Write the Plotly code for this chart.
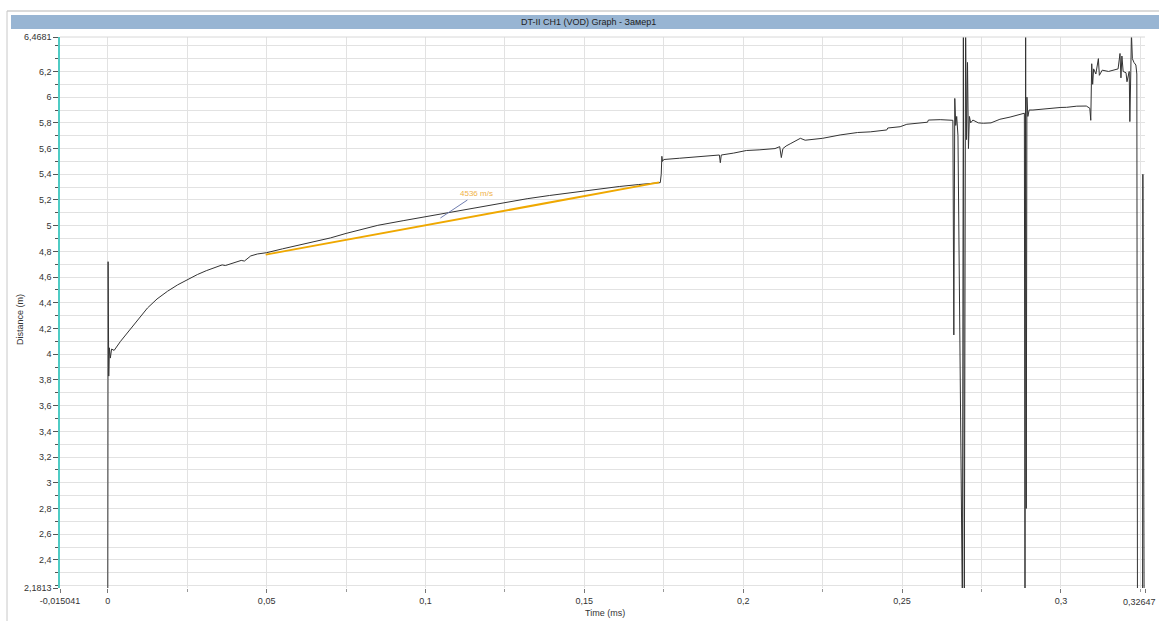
import plotly.graph_objects as go

# ---- data ----
time_ms = [
    0.0000, 0.0001, 0.0002, 0.0003, 0.0005, 0.0008, 0.0012, 0.0020, 0.0040, 0.0072,
    0.0100, 0.0125, 0.0155, 0.0188, 0.0220, 0.0250, 0.0282, 0.0310, 0.0345, 0.0360,
    0.0370, 0.0400, 0.0420, 0.0430, 0.0450, 0.0471, 0.0500, 0.0550, 0.0600, 0.0650,
    0.0701, 0.0750, 0.0800, 0.0850, 0.0932, 0.1000, 0.1050, 0.1100, 0.1160, 0.1250,
    0.1320, 0.1390, 0.1450, 0.1500, 0.1560, 0.1610, 0.1670, 0.1739, 0.1742, 0.1744,
    0.1746, 0.1750, 0.1800, 0.1850, 0.1925, 0.1928, 0.1931, 0.1970, 0.2010, 0.2050,
    0.2100, 0.2115, 0.2120, 0.2125, 0.2135, 0.2150, 0.2180, 0.2195, 0.2250, 0.2305,
    0.2360, 0.2400, 0.2452, 0.2455, 0.2494, 0.2515, 0.2550, 0.2580, 0.2583, 0.2620,
    0.2660, 0.2663, 0.2666, 0.2669, 0.2672, 0.2676, 0.2690, 0.2693, 0.2696, 0.2700,
    0.2703, 0.2706, 0.2709, 0.2712, 0.2716, 0.2723, 0.2740, 0.2756, 0.2780, 0.2808,
    0.2840, 0.2870, 0.2885, 0.2887, 0.2889, 0.2891, 0.2893, 0.2896, 0.2900, 0.2912,
    0.2950, 0.3000, 0.3018, 0.3050, 0.3080, 0.3091, 0.3094, 0.3097, 0.3100, 0.3103,
    0.3110, 0.3118, 0.3121, 0.3130, 0.3150, 0.3170, 0.3180, 0.3186, 0.3189, 0.3192,
    0.3196, 0.3205, 0.3208, 0.3215, 0.3217, 0.3220, 0.3222, 0.3225, 0.3230, 0.3236,
    0.3239, 0.3241, 0.3257, 0.3258, 0.3260, 0.3262,
]
distance_m = [
    2.00, 4.72, 3.95, 3.83, 4.05, 3.97, 4.04, 4.03, 4.10, 4.20,
    4.29, 4.36, 4.43, 4.49, 4.54, 4.58, 4.62, 4.65, 4.68, 4.695,
    4.69, 4.715, 4.73, 4.725, 4.765, 4.78, 4.79, 4.82, 4.848, 4.878,
    4.905, 4.94, 4.97, 5.003, 5.04, 5.07, 5.095, 5.118, 5.145, 5.18,
    5.21, 5.235, 5.255, 5.27, 5.29, 5.305, 5.32, 5.335, 5.40, 5.54,
    5.50, 5.515, 5.525, 5.535, 5.55, 5.49, 5.55, 5.565, 5.585, 5.59,
    5.60, 5.615, 5.53, 5.60, 5.62, 5.64, 5.68, 5.665, 5.68, 5.706,
    5.725, 5.73, 5.745, 5.76, 5.77, 5.789, 5.80, 5.805, 5.822, 5.825,
    5.82, 4.15, 5.99, 5.78, 5.85, 5.70, 2.00, 6.60, 2.00, 6.60,
    5.67, 6.27, 5.60, 5.85, 5.80, 5.822, 5.80, 5.797, 5.80, 5.828,
    5.845, 5.865, 5.875, 2.00, 6.60, 2.80, 6.00, 5.85, 5.90, 5.90,
    5.91, 5.92, 5.921, 5.93, 5.931, 5.914, 5.82, 6.26, 6.10, 6.22,
    6.18, 6.30, 6.17, 6.21, 6.20, 6.21, 6.22, 6.34, 6.15, 6.32,
    6.20, 6.19, 6.12, 6.20, 5.81, 6.20, 6.50, 6.30, 6.27, 6.25,
    6.18, 2.00, 2.00, 5.40, 3.45, 2.00,
]

fit_time = [0.0497, 0.1735]
fit_distance = [4.775, 5.337]
fit_label = "4536 m/s"
label_point = (0.1047, 5.06)

x_tick_vals = [-0.015041, 0, 0.05, 0.1, 0.15, 0.2, 0.25, 0.3, 0.32647]
x_tick_text = ["-0,015041", "0", "0,05", "0,1", "0,15", "0,2", "0,25", "0,3", "0,32647"]
y_tick_vals = [2.1813, 2.4, 2.6, 2.8, 3.0, 3.2, 3.4, 3.6, 3.8, 4.0, 4.2, 4.4, 4.6,
               4.8, 5.0, 5.2, 5.4, 5.6, 5.8, 6.0, 6.2, 6.4681]
y_tick_text = ["2,1813", "2,4", "2,6", "2,8", "3", "3,2", "3,4", "3,6", "3,8", "4",
               "4,2", "4,4", "4,6", "4,8", "5", "5,2", "5,4", "5,6", "5,8", "6", "6,2", "6,4681"]

title_text = "DT-II CH1 (VOD) Graph - Замер1"
x_title = "Time (ms)"
y_title = "Distance (m)"

FONT = "Liberation Sans"
W, H = 1159, 621
L, R, T, B = 60, 14, 37, 33
PW, PH = W - L - R, H - T - B


def px(xp):
    return (xp - L) / PW


def py(yp):
    return (H - B - yp) / PH


fig = go.Figure()
fig.add_trace(go.Scatter(
    x=time_ms, y=distance_m, mode="lines",
    line=dict(color="#333333", width=1), hoverinfo="x+y", showlegend=False,
))
fig.add_trace(go.Scatter(
    x=fit_time, y=fit_distance, mode="lines",
    line=dict(color="#EFA800", width=2), showlegend=False,
))

# the last x tick label sits at the very edge -> drawn as an annotation kept inside the page
axis_tick_text = x_tick_text[:-1] + [""]

grid = "#E2E2E2"
fig.update_xaxes(
    range=[-0.015041, 0.32647], tickvals=x_tick_vals, ticktext=axis_tick_text,
    showgrid=True, gridcolor=grid, gridwidth=1, zeroline=False, showline=False,
    ticks="outside", ticklen=4, tickcolor="#777777", automargin=False,
    minor=dict(dtick=0.025, tick0=0, ticks="outside", ticklen=3, tickcolor="#999999",
               showgrid=True, gridcolor=grid),
    tickfont=dict(family=FONT, size=9, color="#333333"),
)
fig.update_yaxes(
    range=[2.1813, 6.4681], tickvals=y_tick_vals, ticktext=y_tick_text,
    showgrid=True, gridcolor=grid, gridwidth=1, zeroline=False, automargin=False,
    showline=True, linecolor="#4FCBC4", linewidth=1.5,
    ticks="outside", ticklen=5, tickcolor="#555555",
    minor=dict(dtick=0.1, tick0=0, ticks="outside", ticklen=3, tickcolor="#555555",
               showgrid=True, gridcolor=grid),
    tickfont=dict(family=FONT, size=9, color="#333333"),
)

shapes = [
    # outer frame
    dict(type="line", xref="paper", yref="paper", x0=px(7), x1=px(1159), y0=py(11), y1=py(11),
         line=dict(color="#B5B5B5", width=1)),
    dict(type="line", xref="paper", yref="paper", x0=px(7), x1=px(7), y0=py(11), y1=py(621),
         line=dict(color="#C8C8C8", width=1)),
    # title bar
    dict(type="rect", xref="paper", yref="paper", x0=px(11), x1=px(1159), y0=py(29), y1=py(15),
         fillcolor="#98B5D3", line=dict(width=0), layer="below"),
    # top border of plot
    dict(type="line", xref="paper", yref="paper", x0=0, x1=1, y0=1, y1=1,
         line=dict(color="#D8D8D8", width=1)),
]

annotations = [
    dict(text=title_text, xref="paper", yref="paper", x=px(588), y=py(22), showarrow=False,
         font=dict(family=FONT, size=9, color="#222222"), xanchor="center", yanchor="middle"),
    dict(text=x_title, xref="paper", yref="paper", x=px(605), y=py(613), showarrow=False,
         font=dict(family=FONT, size=9, color="#333333"), xanchor="center", yanchor="middle"),
    dict(text=y_title, xref="paper", yref="paper", x=px(20), y=py(320), showarrow=False,
         textangle=-90, font=dict(family=FONT, size=9, color="#333333"),
         xanchor="center", yanchor="middle"),
    dict(text=x_tick_text[-1], xref="paper", yref="paper", x=px(1158), y=py(602),
         showarrow=False, font=dict(family=FONT, size=9, color="#333333"),
         xanchor="right", yanchor="middle"),
    dict(text=fit_label, x=label_point[0], y=label_point[1], xref="x", yref="y",
         showarrow=True, arrowhead=0, arrowwidth=1, arrowcolor="#6F7DB0",
         ax=36, ay=-24, font=dict(family=FONT, size=8, color="#F0B247")),
]

fig.update_layout(
    width=W, height=H, margin=dict(l=L, r=R, t=T, b=B, pad=0, autoexpand=False),
    paper_bgcolor="white", plot_bgcolor="white",
    shapes=shapes, annotations=annotations, showlegend=False,
)

fig.write_html(
    "out.html",
    config={"displayModeBar": False},
    post_script="document.body.style.margin='0';document.body.style.overflow='hidden';",
)
